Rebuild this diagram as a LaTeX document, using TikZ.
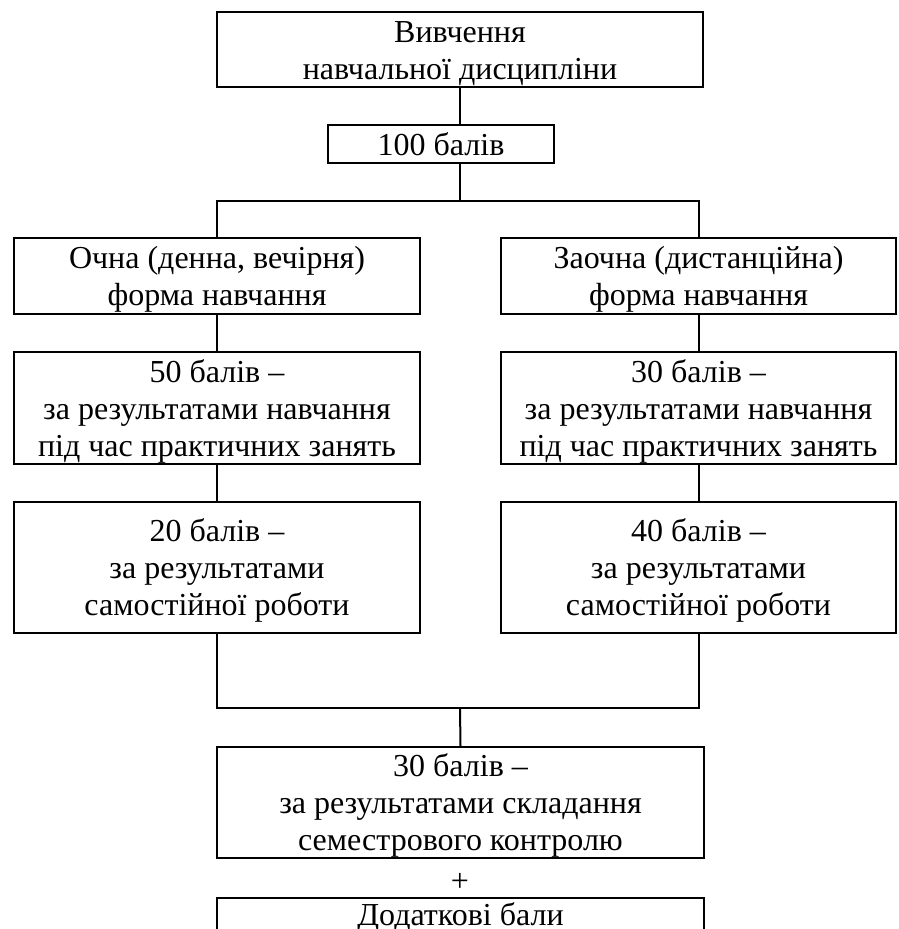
\documentclass[tikz,border=0pt]{standalone}
\usepackage{fontspec}
\setmainfont{Liberation Serif}
\usetikzlibrary{positioning}
\tikzset{
	stepbox/.style = {draw, line width=2pt, align=center, inner sep=0pt},
	link/.style = {line width=2pt}
}
\newcommand{\topgap}{\rule{0pt}{29pt}}

\begin{document}
\begin{tikzpicture}[
x = 1pt, y = -1pt,
every node/.style = {
	font = \fontsize{32}{37}\selectfont,
}
]
\useasboundingbox (0,0) rectangle (898,929);

\node[stepbox, minimum width=486, minimum height=75] (study) at (460,49.5) {\topgap Вивчення\\навчальної дисципліни};
\node[stepbox, minimum width=226, minimum height=38] (total) at (441,144) {100 балів};

\node[stepbox, minimum width=406, minimum height=76] (full) at (217,276) {\topgap Очна (денна, вечірня)\\форма навчання};
\node[stepbox, minimum width=395, minimum height=76] (part) at (698.5,276) {\topgap Заочна (дистанційна)\\форма навчання};

\node[stepbox, minimum width=406, minimum height=112] (fullprac) at (217,408) {\topgap 50 балів –\\за результатами навчання\\під час практичних занять};
\node[stepbox, minimum width=395, minimum height=112] (partprac) at (698.5,408) {\topgap 30 балів –\\за результатами навчання\\під час практичних занять};

\node[stepbox, minimum width=406, minimum height=131] (fullself) at (217,567.5) {\topgap 20 балів –\\за результатами\\самостійної роботи};
\node[stepbox, minimum width=395, minimum height=131] (partself) at (698.5,567.5) {\topgap 40 балів –\\за результатами\\самостійної роботи};

\node[stepbox, minimum width=487, minimum height=111] (exam) at (460.5,802.5) {\topgap 30 балів –\\за результатами складання\\семестрового контролю};
\node (plus) at (460,882) {+};
\node[stepbox, minimum width=487, text height=24, text depth=8, inner ysep=3, anchor=north] (extra) at (460.5,897) {Додаткові бали};

\coordinate (fork) at (460,201);
\coordinate (join) at (460,708);

\draw[link] (study.south) -- (study.south |- total.north);
\draw[link] (study.south |- total.south) -- (fork);
\draw[link] (full.north) |- (fork) -| (part.north);
\draw[link] (full.south) -- (fullprac.north);
\draw[link] (part.south) -- (partprac.north);
\draw[link] (fullprac.south) -- (fullself.north);
\draw[link] (partprac.south) -- (partself.north);
\draw[link] (fullself.south) |- (join) -| (partself.south);
\draw[link] (join) -- (exam.north);

\end{tikzpicture}
\end{document}
